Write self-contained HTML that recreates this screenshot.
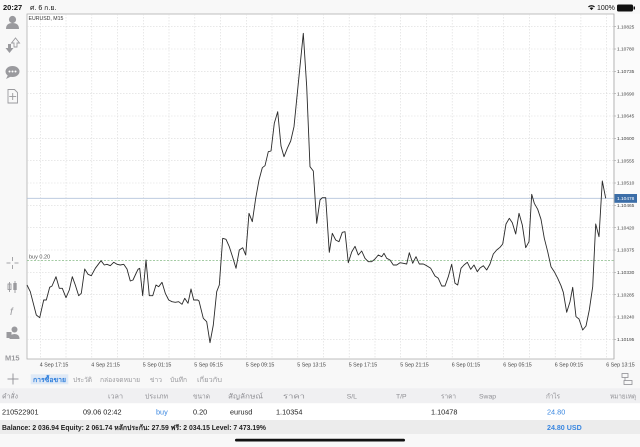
<!DOCTYPE html>
<html><head><meta charset="utf-8"><style>
html,body{margin:0;padding:0;background:#f8f8f8;width:640px;height:447px;overflow:hidden}
svg{display:block}
text{font-family:"Liberation Sans","DejaVu Sans","Noto Sans CJK SC",sans-serif}
</style></head><body>
<svg width="640" height="447" viewBox="0 0 640 447" xmlns="http://www.w3.org/2000/svg">
<rect x="0" y="0" width="640" height="447" fill="#f8f8f8"/>
<!-- status bar -->
<text x="3" y="10" font-size="7.5" fill="#111" font-weight="600">20:27</text>
<text x="30" y="10" font-size="7" fill="#111">ศ. 6 ก.ย.</text>
<g fill="#111">
<path d="M588 6.5 a5 5 0 0 1 7 0 l-0.9 0.9 a3.8 3.8 0 0 0 -5.2 0z"/>
<path d="M589.6 8.1 a2.7 2.7 0 0 1 3.8 0 l-1.9 2z"/>
</g>
<text x="597" y="10" font-size="7" fill="#111">100%</text>
<rect x="617" y="4.5" width="16" height="7" rx="1.5" fill="#111"/>
<rect x="633.5" y="6.5" width="1.5" height="3" fill="#111"/>

<!-- chart area -->
<rect x="27" y="14" width="587" height="345" fill="#ffffff" stroke="#b0b0b0" stroke-width="0.8"/>
<g stroke="#d9d9d9" stroke-width="0.6" stroke-dasharray="1.5,1.5">
<line x1="27" x2="614" y1="26.7" y2="26.7"/><line x1="27" x2="614" y1="49.0" y2="49.0"/>
<line x1="27" x2="614" y1="71.4" y2="71.4"/><line x1="27" x2="614" y1="93.7" y2="93.7"/>
<line x1="27" x2="614" y1="116.0" y2="116.0"/><line x1="27" x2="614" y1="138.4" y2="138.4"/>
<line x1="27" x2="614" y1="160.7" y2="160.7"/><line x1="27" x2="614" y1="183.0" y2="183.0"/>
<line x1="27" x2="614" y1="205.3" y2="205.3"/><line x1="27" x2="614" y1="227.7" y2="227.7"/>
<line x1="27" x2="614" y1="250.0" y2="250.0"/><line x1="27" x2="614" y1="272.3" y2="272.3"/>
<line x1="27" x2="614" y1="294.7" y2="294.7"/><line x1="27" x2="614" y1="317.0" y2="317.0"/>
<line x1="27" x2="614" y1="339.3" y2="339.3"/>
<line y1="14" y2="359" x1="40.3" x2="40.3"/><line y1="14" y2="359" x1="66.0" x2="66.0"/>
<line y1="14" y2="359" x1="91.8" x2="91.8"/><line y1="14" y2="359" x1="117.5" x2="117.5"/>
<line y1="14" y2="359" x1="143.3" x2="143.3"/><line y1="14" y2="359" x1="169.0" x2="169.0"/>
<line y1="14" y2="359" x1="194.8" x2="194.8"/><line y1="14" y2="359" x1="220.5" x2="220.5"/>
<line y1="14" y2="359" x1="246.3" x2="246.3"/><line y1="14" y2="359" x1="272.0" x2="272.0"/>
<line y1="14" y2="359" x1="297.8" x2="297.8"/><line y1="14" y2="359" x1="323.5" x2="323.5"/>
<line y1="14" y2="359" x1="349.2" x2="349.2"/><line y1="14" y2="359" x1="375.0" x2="375.0"/>
<line y1="14" y2="359" x1="400.7" x2="400.7"/><line y1="14" y2="359" x1="426.5" x2="426.5"/>
<line y1="14" y2="359" x1="452.2" x2="452.2"/><line y1="14" y2="359" x1="478.0" x2="478.0"/>
<line y1="14" y2="359" x1="503.7" x2="503.7"/><line y1="14" y2="359" x1="529.5" x2="529.5"/>
<line y1="14" y2="359" x1="555.2" x2="555.2"/><line y1="14" y2="359" x1="580.9" x2="580.9"/>
<line y1="14" y2="359" x1="606.7" x2="606.7"/>
</g>
<!-- current price line -->
<line x1="27" x2="614" y1="198.3" y2="198.3" stroke="#b3c3db" stroke-width="0.9"/>
<!-- buy line -->
<line x1="27" x2="614" y1="260.4" y2="260.4" stroke="#98c498" stroke-width="0.9" stroke-dasharray="2,1.5"/>
<text x="29" y="258.3" font-size="5.5" fill="#555">buy 0.20</text>
<text x="28.5" y="19.8" font-size="5.2" fill="#333">EURUSD, M15</text>

<!-- price line -->
<polyline fill="none" stroke="#2a2a2a" stroke-width="0.9" stroke-linejoin="round" points="
27,285 30.3,291.7 36.3,315 39.7,317.7 43.7,300 46.3,300 49.7,287.3 52,286 56,276.7 59.3,288.3 62.3,288.3 66,297.7 69.3,290 72.3,276.7 75.3,285 78.7,295.7 81.3,293.3 84.7,269 88,274.3 91.3,275.7 95.3,268.3 101,260.7 104.3,265 107,264.3 110.3,265.7 113.7,262.3 117,264.3 120.3,265 123.7,264.3 127,269 130.3,281 133,280 135.3,275 138,269.3 139.7,268.3 142.7,295.7 146,260 149.3,295.7 152.7,295.7 156,285 158.7,286.7 162,282.3 165.3,293.3 168.7,300 172,301.7 175.3,302.3 178.7,301.7 182,304.3 184.7,298.3 188,303.3 191,289 193.7,300 197.7,300
199,301 203.3,318.3 206.7,321.7 210,342.7 213.3,325 216.7,291.7 219.3,285 222.7,238.3 226,239.3 229.3,246.7 232.7,257.3 236,268.3 239.3,250 242.7,247.7 245.7,255 249,213.3 252.3,221.7 255.7,198.3 259,180 262.3,167.7 265,165.7 268.3,151.7 271,151 274.3,123.3 277.7,111.7 281,146 284,156.7 287.3,148.3 290.7,141 294,126.7 297.3,93.3 303.3,33.3 306.7,86.7 310,166.7 313.3,171 316.7,223.3 320,200 322.3,197.7 325.7,197.7 329.3,252.3 332.3,233.3 335.7,240 339,241.7 342.3,232.3 345,231.7 348.3,262.7 351.7,252 355,246.3
358.3,255 361.7,251 365,258.3 368.3,261.7 371.7,261.7 375,259 378.3,255 381.7,256.7 384,253.3 386.7,258.3 390,260 393.3,265 396.7,265 400,262.7 403.3,263.3 406.7,264 409.3,252.7 412.7,263.3 416,256.7 419.3,264 423.3,264 426.7,265.7 430.7,268.3 435,276 438.3,278.3 441.7,286 445,286 448.3,276.7 451.7,264.3 455,283.3 457.7,285 461,268.3 464,265 467.3,262.3 470.7,269.3 474,265 477.3,271.7 480,268 483.3,265.7 486.7,270 490,264 493.3,254 496.7,250 500,247.3 502.7,244
506,224 509.3,218.3 512.3,222.7 515.7,234 519,213.3 522.3,225 525.7,247.7 529,241.7 531.7,194.3 534.3,203.3 537.7,209.3 541,219.3 544.3,238.3 547.7,251.7 551,266.7 554.3,271.7 557.7,278.3 561,285.7 563.3,292.3 566.7,312.3 570,301.7 572.7,287.3 576,316.7 579,319 582.7,330 586,326 589.3,310 592.7,286.7 595.7,224 599,236.7 602.3,181 605.7,198.3"/>

<!-- right axis -->
<rect x="614.4" y="14" width="25.6" height="346" fill="#fbfbfb"/>
<g stroke="#999" stroke-width="0.6">
<line x1="614" x2="616" y1="26.7" y2="26.7"/><line x1="614" x2="616" y1="49.0" y2="49.0"/>
<line x1="614" x2="616" y1="71.4" y2="71.4"/><line x1="614" x2="616" y1="93.7" y2="93.7"/>
<line x1="614" x2="616" y1="116.0" y2="116.0"/><line x1="614" x2="616" y1="138.4" y2="138.4"/>
<line x1="614" x2="616" y1="160.7" y2="160.7"/><line x1="614" x2="616" y1="183.0" y2="183.0"/>
<line x1="614" x2="616" y1="205.3" y2="205.3"/><line x1="614" x2="616" y1="227.7" y2="227.7"/>
<line x1="614" x2="616" y1="250.0" y2="250.0"/><line x1="614" x2="616" y1="272.3" y2="272.3"/>
<line x1="614" x2="616" y1="294.7" y2="294.7"/><line x1="614" x2="616" y1="317.0" y2="317.0"/>
<line x1="614" x2="616" y1="339.3" y2="339.3"/>
</g>
<line x1="614" x2="614" y1="14" y2="359" stroke="#b0b0b0" stroke-width="0.8"/>
<g font-size="4.8" fill="#444">
<text x="617" y="28.4">1.10825</text><text x="617" y="50.7">1.10780</text>
<text x="617" y="73.1">1.10735</text><text x="617" y="95.4">1.10690</text>
<text x="617" y="117.7">1.10645</text><text x="617" y="140.1">1.10600</text>
<text x="617" y="162.4">1.10555</text><text x="617" y="184.7">1.10510</text>
<text x="617" y="207.0">1.10465</text><text x="617" y="229.4">1.10420</text>
<text x="617" y="251.7">1.10375</text><text x="617" y="274.0">1.10330</text>
<text x="617" y="296.4">1.10285</text><text x="617" y="318.7">1.10240</text>
<text x="617" y="341.0">1.10195</text>
</g>
<rect x="614.5" y="194" width="22.5" height="8.8" fill="#3c6ea8"/>
<text x="617" y="200.1" font-size="4.8" fill="#ffffff">1.10478</text>

<!-- time axis -->
<g font-size="5.3" fill="#444">
<text x="39.8" y="366.5">4 Sep 17:15</text><text x="91.3" y="366.5">4 Sep 21:15</text>
<text x="142.8" y="366.5">5 Sep 01:15</text><text x="194.3" y="366.5">5 Sep 05:15</text>
<text x="245.8" y="366.5">5 Sep 09:15</text><text x="297.3" y="366.5">5 Sep 13:15</text>
<text x="348.7" y="366.5">5 Sep 17:15</text><text x="400.2" y="366.5">5 Sep 21:15</text>
<text x="451.7" y="366.5">6 Sep 01:15</text><text x="503.2" y="366.5">6 Sep 05:15</text>
<text x="554.7" y="366.5">6 Sep 09:15</text><text x="606.2" y="366.5">6 Sep 13:15</text>
</g>

<!-- left toolbar icons -->
<g fill="#9a9a9e" stroke="none">
<circle cx="12.5" cy="19.5" r="3.6"/>
<path d="M6 29 q0-6 6.5-6 q6.5 0 6.5 6z"/>
<path d="M8 44 h3 v4 h2.5 l-4 5 l-4-5 h2.5z"/>
<path d="M14 47 h3 v-4 h2.5 l-4-5 l-4 5 h2.5z" fill="none" stroke="#9a9a9e" stroke-width="0.9"/>
<ellipse cx="12.5" cy="71.5" rx="7" ry="5.5"/>
<path d="M8 75 l-2 4 l5-2.5z"/>
</g>
<g fill="#fff"><circle cx="9.5" cy="71.5" r="1"/><circle cx="12.5" cy="71.5" r="1"/><circle cx="15.5" cy="71.5" r="1"/></g>
<g fill="none" stroke="#9a9a9e" stroke-width="0.9">
<path d="M8 89.5 h6.5 l3 3 v10.5 h-9.5z"/>
<line x1="12.7" y1="93" x2="12.7" y2="100"/><line x1="9.2" y1="96.5" x2="16.2" y2="96.5"/>
<line x1="12.5" y1="257" x2="12.5" y2="261"/><line x1="12.5" y1="265" x2="12.5" y2="269"/>
<line x1="6.5" y1="263" x2="10.5" y2="263"/><line x1="14.5" y1="263" x2="18.5" y2="263"/>
<line x1="9.5" y1="282" x2="9.5" y2="292"/><rect x="8" y="284" width="3" height="5.5"/>
</g>
<g fill="#9a9a9e">
<line x1="15" y1="281" x2="15" y2="293" stroke="#9a9a9e" stroke-width="0.9"/>
<rect x="13.3" y="283" width="3.4" height="7"/>
<circle cx="14.5" cy="329.5" r="3"/>
<path d="M9.5 339 q0-5 5-5 q5 0 5 5z"/>
<rect x="6.5" y="332" width="5" height="6"/>
</g>
<text x="10" y="315" font-size="10" font-style="italic" fill="#9a9a9e" font-family="Liberation Serif, serif">f</text>
<text x="5" y="360.5" font-size="7.5" font-weight="700" fill="#9a9a9e">M15</text>

<!-- tab row -->
<g stroke="#8e8e93" stroke-width="0.9">
<line x1="13" y1="373.5" x2="13" y2="384.5"/><line x1="7.5" y1="379" x2="18.5" y2="379"/>
</g>
<rect x="30.7" y="374.3" width="37.6" height="10" fill="#dfe9f6"/>
<text x="33" y="381.8" font-size="6.5" font-weight="700" fill="#2f7fdc" textLength="33" lengthAdjust="spacingAndGlyphs">การซื้อขาย</text>
<g font-size="6.5" fill="#9a9a9e">
<text x="73" y="381.8" textLength="19" lengthAdjust="spacingAndGlyphs">ประวัติ</text>
<text x="100" y="381.8" textLength="40" lengthAdjust="spacingAndGlyphs">กล่องจดหมาย</text>
<text x="150" y="381.8" textLength="12" lengthAdjust="spacingAndGlyphs">ข่าว</text>
<text x="170" y="381.8" textLength="17" lengthAdjust="spacingAndGlyphs">บันทึก</text>
<text x="197" y="381.8" textLength="25" lengthAdjust="spacingAndGlyphs">เกี่ยวกับ</text>
</g>
<g fill="none" stroke="#8e8e93" stroke-width="0.8">
<rect x="622" y="373.5" width="6" height="4"/><rect x="624" y="380.5" width="8" height="4"/>
<path d="M625 377.5 v3"/>
</g>

<!-- header row -->
<rect x="0" y="388.3" width="640" height="15" fill="#f0f0f2"/>
<g font-size="6.8" fill="#8e8e93">
<text x="2" y="398.5" textLength="16" lengthAdjust="spacingAndGlyphs">คำสั่ง</text>
<text x="108" y="398.5" textLength="15" lengthAdjust="spacingAndGlyphs">เวลา</text>
<text x="145" y="398.5" textLength="23" lengthAdjust="spacingAndGlyphs">ประเภท</text>
<text x="193" y="398.5" textLength="17" lengthAdjust="spacingAndGlyphs">ขนาด</text>
<text x="228" y="398.5" textLength="35" lengthAdjust="spacingAndGlyphs">สัญลักษณ์</text>
<text x="283" y="398.5" textLength="22" lengthAdjust="spacingAndGlyphs">ราคา</text>
<text x="346.7" y="398.5">S/L</text>
<text x="396" y="398.5">T/P</text>
<text x="441" y="398.5" textLength="15" lengthAdjust="spacingAndGlyphs">ราคา</text>
<text x="479" y="398.5">Swap</text>
<text x="546" y="398.5" textLength="14" lengthAdjust="spacingAndGlyphs">กำไร</text>
<text x="610" y="398.5" textLength="26" lengthAdjust="spacingAndGlyphs">หมายเหตุ</text>
</g>

<!-- data row -->
<rect x="0" y="403.3" width="640" height="16.7" fill="#ffffff"/>
<g font-size="7.3" fill="#222">
<text x="2" y="414.5">210522901</text>
<text x="83" y="414.5">09.06 02:42</text>
<text x="193" y="414.5">0.20</text>
<text x="230" y="414.5">eurusd</text>
<text x="276" y="414.5">1.10354</text>
<text x="431" y="414.5">1.10478</text>
</g>
<text x="156" y="414.5" font-size="7.3" fill="#3a87e0">buy</text>
<text x="547" y="414.5" font-size="7.3" fill="#3a87e0">24.80</text>

<!-- balance row -->
<rect x="0" y="420" width="640" height="14" fill="#ececec"/>
<text x="2" y="430" font-size="7.1" font-weight="700" fill="#222" textLength="264" lengthAdjust="spacingAndGlyphs">Balance: 2 036.94 Equity: 2 061.74 หลักประกัน: 27.59 ฟรี: 2 034.15 Level: 7 473.19%</text>
<text x="547" y="430" font-size="7.1" font-weight="700" fill="#3a87e0">24.80  USD</text>

<!-- home indicator -->
<rect x="235" y="438.7" width="170" height="2.8" rx="1.4" fill="#111"/>
</svg>
</body></html>
